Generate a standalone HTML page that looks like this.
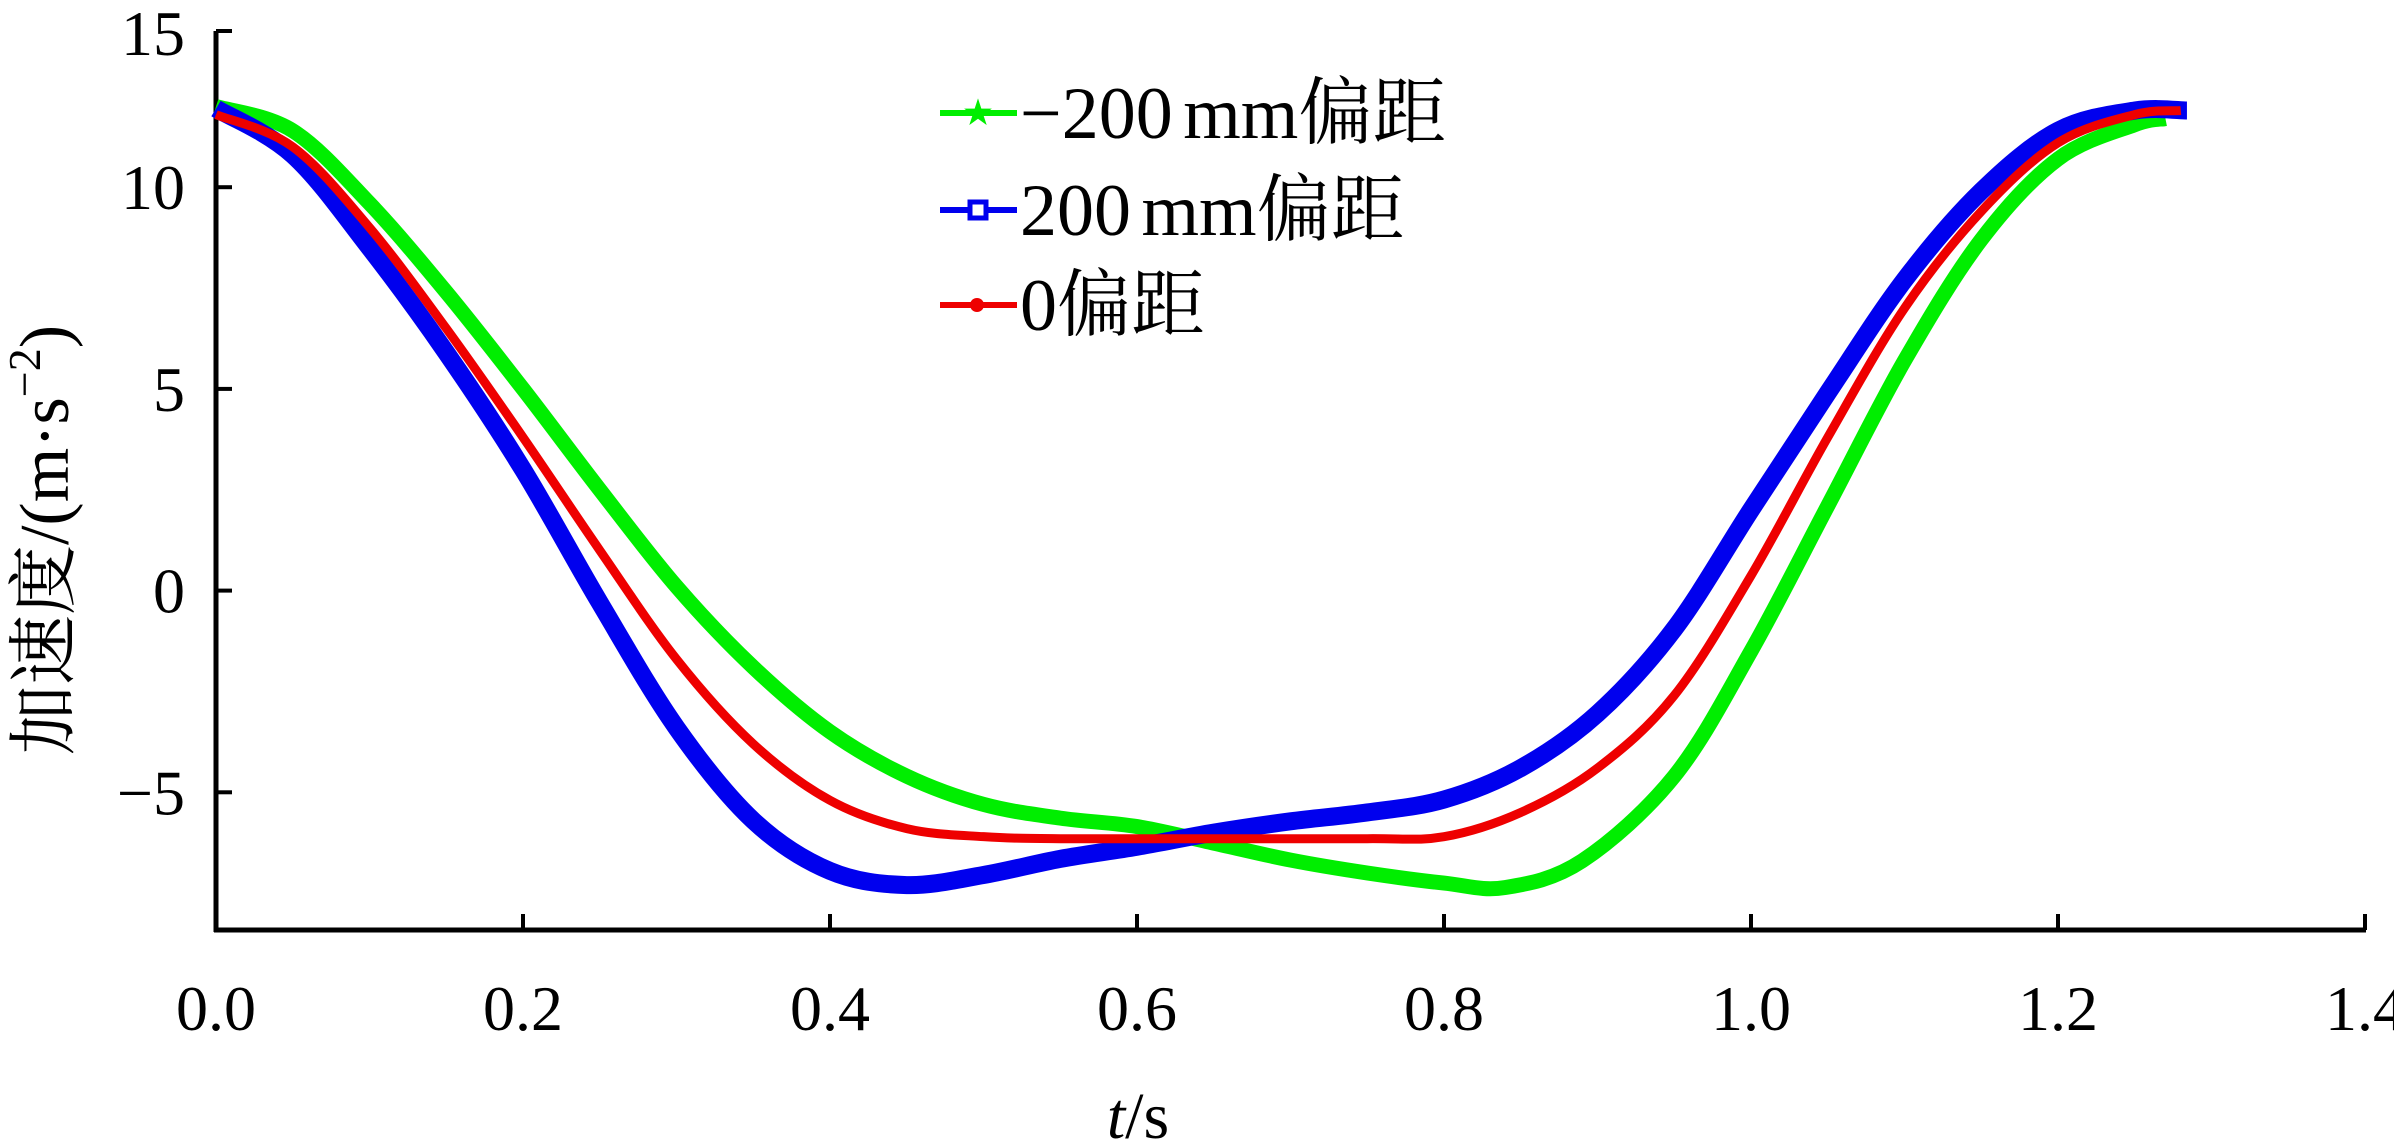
<!DOCTYPE html>
<html><head><meta charset="utf-8">
<style>
html,body{margin:0;padding:0;background:#fff;}
svg{display:block;}
text{font-family:"Liberation Serif","Noto Serif CJK SC","Noto Sans CJK SC",serif;fill:#000;}
</style></head>
<body>
<svg id="chart" width="2394" height="1146" viewBox="0 0 2394 1146" xmlns="http://www.w3.org/2000/svg">
<g id="axes"></g>
<g id="series"></g>
<g id="legend"></g>
<text transform="translate(68,540) rotate(-90)" text-anchor="middle" font-size="70">加速度/(m·s<tspan dy="-28" font-size="46">−2</tspan><tspan dy="28">)</tspan></text>
<text x="1138" y="1138" text-anchor="middle" font-size="66"><tspan font-style="italic">t</tspan>/s</text>
</svg>
<script>
const xTicks = [0, 0.2, 0.4, 0.6, 0.8, 1.0, 1.2, 1.4];
const xTickLabels = ["0.0","0.2","0.4","0.6","0.8","1.0","1.2","1.4"];
const yTicks = [-5, 0, 5, 10, 15];
const yTickLabels = ["−5","0","5","10","15"];
const tGreen = [0,0.05,0.1,0.15,0.2,0.25,0.3,0.35,0.4,0.45,0.5,0.55,0.6,0.65,0.7,0.75,0.8,0.84,0.89,0.95,1.0,1.05,1.1,1.15,1.2,1.25,1.27];
const vGreen = [12.0,11.4,9.6,7.4,5.0,2.5,0.1,-1.9,-3.5,-4.6,-5.3,-5.64,-5.85,-6.26,-6.68,-7.0,-7.25,-7.36,-6.7,-4.6,-1.5,2.1,5.7,8.7,10.7,11.55,11.7];
const tBlue = [0,0.05,0.1,0.15,0.2,0.25,0.3,0.35,0.4,0.45,0.5,0.55,0.6,0.65,0.7,0.75,0.8,0.85,0.9,0.95,1.0,1.05,1.1,1.15,1.2,1.25,1.284];
const vBlue = [11.95,10.8,8.5,5.9,3.0,-0.3,-3.4,-5.7,-6.95,-7.3,-7.05,-6.65,-6.35,-6.0,-5.72,-5.5,-5.18,-4.4,-3.05,-0.95,2.0,4.9,7.7,9.9,11.4,11.9,11.9];
const tRed = [0,0.05,0.1,0.15,0.2,0.25,0.3,0.35,0.4,0.45,0.5,0.55,0.65,0.75,0.8,0.85,0.9,0.95,1.0,1.05,1.1,1.15,1.2,1.25,1.28];
const vRed = [11.8,11.0,9.0,6.5,3.8,1.0,-1.7,-3.8,-5.2,-5.9,-6.1,-6.15,-6.15,-6.15,-6.1,-5.5,-4.4,-2.6,0.37,3.8,7.0,9.4,11.1,11.8,11.9];
const seriesNames = ["−200 mm偏距","200 mm偏距","0偏距"];

const NS="http://www.w3.org/2000/svg";
const X0=216, XPER=1535;
const Y0=590.6, YPER=40.34;
const xs = t => X0 + t*XPER;
const ys = v => Y0 - v*YPER;
const AXIS_Y=930, AXIS_TOP=31, AXIS_RIGHT=2366;
function mk(tag, attrs, parent){const e=document.createElementNS(NS,tag);for(const k in attrs)e.setAttribute(k,attrs[k]);parent.appendChild(e);return e;}

const axes=document.getElementById('axes');
let e=mk('line',{x1:X0,y1:AXIS_TOP,x2:X0,y2:AXIS_Y+2,stroke:'#000','stroke-width':5},axes);


e=mk('line',{x1:X0-2,y1:AXIS_Y,x2:AXIS_RIGHT,y2:AXIS_Y,stroke:'#000','stroke-width':5},axes);


xTicks.forEach((t,i)=>{
  const x=xs(t);
  if(i>0){const tk=mk('line',{x1:x,y1:AXIS_Y,x2:x,y2:AXIS_Y-16,stroke:'#000','stroke-width':4},axes);
  
  }
  const lb=mk('text',{x:x,y:1030,'text-anchor':'middle','font-size':64},axes);
  lb.textContent=xTickLabels[i];
  
  
});
yTicks.forEach((v,i)=>{
  const y = v===15 ? AXIS_TOP : ys(v);
  const tk=mk('line',{x1:X0,y1:y,x2:X0+16,y2:y,stroke:'#000','stroke-width':4},axes);
  
  
  const lb=mk('text',{x:185,y:y+(v===15?24:22),'text-anchor':'end','font-size':64},axes);
  lb.textContent=yTickLabels[i];
  
  
});

function smoothPath(ts,vs){
  const p=ts.map((t,i)=>[xs(t),ys(vs[i])]);
  let d='M'+p[0][0]+','+p[0][1];
  for(let i=0;i<p.length-1;i++){
    const p0=p[i-1]||p[i],p1=p[i],p2=p[i+1],p3=p[i+2]||p[i+1];
    const c1=[p1[0]+(p2[0]-p0[0])/6,p1[1]+(p2[1]-p0[1])/6];
    const c2=[p2[0]-(p3[0]-p1[0])/6,p2[1]-(p3[1]-p1[1])/6];
    d+=' C'+c1[0]+','+c1[1]+' '+c2[0]+','+c2[1]+' '+p2[0]+','+p2[1];
  }
  return d;
}
const sg=document.getElementById('series');
let s=mk('path',{d:smoothPath(tGreen,vGreen),fill:'none',stroke:'#00ee00','stroke-width':15,'stroke-linejoin':'round'},sg);


s=mk('path',{d:smoothPath(tBlue,vBlue),fill:'none',stroke:'#0000ee','stroke-width':18,'stroke-linejoin':'round'},sg);


s=mk('path',{d:smoothPath(tRed,vRed),fill:'none',stroke:'#ee0000','stroke-width':9,'stroke-linejoin':'round'},sg);



const lg=document.getElementById('legend');
const colors=['#00ee00','#0000ee','#ee0000'];
const rowsY=[113,210,305];
seriesNames.forEach((n,i)=>{
  const y=rowsY[i];
  const ln=mk('line',{x1:940,y1:y,x2:1017,y2:y,stroke:colors[i],'stroke-width':6},lg);
  
  
  let m;
  if(i===0){m=mk('text',{x:978,y:y+10,'text-anchor':'middle','font-size':30},lg);m.textContent='★';m.style.fill=colors[i];}
  else if(i===1){m=mk('rect',{x:970,y:y-8,width:16,height:16,fill:'#fff',stroke:colors[i],'stroke-width':5},lg);}
  else {m=mk('circle',{cx:977,cy:y,r:7,fill:colors[i]},lg);}
  
  
  const tx=mk('text',{x:1020,y:y+25,'font-size':74,'word-spacing':'-8'},lg);
  tx.textContent=n;
  
  
});
</script>
</body></html>
